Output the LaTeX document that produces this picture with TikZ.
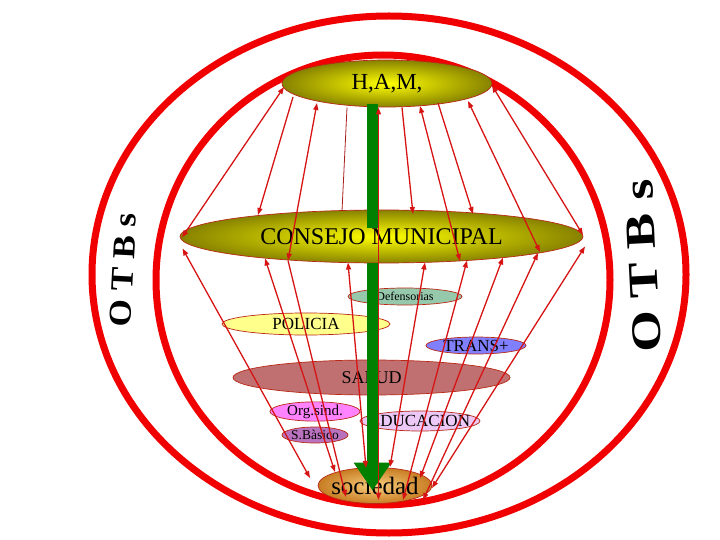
\documentclass[tikz,border=0pt]{standalone}
\usepackage{fontspec}
\setmainfont{Liberation Serif}
\usetikzlibrary{shapes.geometric,arrows.meta,calc}
\definecolor{ringred}{RGB}{240,0,0}
\definecolor{rline}{RGB}{215,20,20}
\definecolor{thinline}{RGB}{170,30,30}
\definecolor{eborder}{RGB}{185,40,20}
\definecolor{hamin}{RGB}{255,255,0}
\definecolor{hamout}{RGB}{135,130,0}
\definecolor{socin}{RGB}{248,205,125}
\definecolor{socout}{RGB}{200,125,35}
\definecolor{defc}{RGB}{150,200,172}
\definecolor{polc}{RGB}{255,255,140}
\definecolor{tranc}{RGB}{128,128,255}
\definecolor{salc}{RGB}{192,112,112}
\definecolor{orgc}{RGB}{255,130,255}
\definecolor{educ}{RGB}{235,200,245}
\definecolor{sbac}{RGB}{185,115,190}
\definecolor{grn}{RGB}{0,128,0}
\begin{document}
\begin{tikzpicture}[x=1pt,y=-1pt,
  oval/.style={ellipse, draw=eborder, line width=0.7pt, inner sep=0pt},
  ring/.style={draw=ringred, line width=7pt},
  rarr/.style={rline, line width=1.3pt, {Triangle[length=7pt,width=5pt]}-{Triangle[length=7pt,width=5pt]}},
  rto/.style={rline, line width=1.3pt, -{Triangle[length=7pt,width=5pt]}},
  fs/.style={font=\fontsize{#1}{#1}\selectfont},
  fsb/.style={font=\fontsize{#1}{#1}\selectfont\bfseries}
]
\useasboundingbox (0,0) rectangle (720,540);
% rings
\draw[ring] (389,274.5) ellipse [x radius=297, y radius=258.5];
\draw[ring] (383,280) ellipse [x radius=227, y radius=225];
% OTBs labels
\node[rotate=87, fsb=32] (otbl) at (123,270) {\scalebox{1.1}[1]{O T B s}};
\node[rotate=93, fsb=42] (otbr) at (643,266) {\scalebox{1.27}[1]{O T B s}};
% ellipses
\node[oval, minimum width=210pt, minimum height=47pt, shade, inner color=hamin, outer color=hamout, fs=23] (ham) at (387,83.5) {\makebox[0pt]{H,A,M,}};
\node[oval, minimum width=403pt, minimum height=53pt, shade, inner color=hamin, outer color=hamout, fs=24] (cons) at (381.5,236.5) {\makebox[0pt]{CONSEJO MUNICIPAL}};
\node[oval, fill=defc, minimum width=114pt, minimum height=17pt, fs=12] (def) at (405,296.5) {\makebox[0pt]{Defensorias}};
\node[oval, fill=polc, minimum width=168pt, minimum height=22pt, fs=17] (pol) at (306,324) {\makebox[0pt]{POLICIA}};
\node[oval, fill=tranc, minimum width=100pt, minimum height=17pt, fs=17] (tra) at (476,345.5) {\makebox[0pt]{TRANS+}};
\node[oval, fill=salc, minimum width=277pt, minimum height=35pt, fs=18] (sal) at (371.5,377.5) {\makebox[0pt]{SALUD}};
\node[oval, fill=orgc, minimum width=90pt, minimum height=17pt, fs=15] (org) at (315,411.5) {\makebox[0pt]{Org.sind.}};
\node[oval, fill=educ, minimum width=120pt, minimum height=20pt, fs=17] (edu) at (420,421) {\makebox[0pt]{EDUCACION}};
\node[oval, fill=sbac, minimum width=66pt, minimum height=16pt, fs=13.5] (sba) at (315,435) {\makebox[0pt]{S.Bàsico}};
\node[oval, minimum width=114pt, minimum height=36pt, shade, inner color=socin, outer color=socout, fs=25] (soc) at (375,485.5) {\makebox[0pt]{sociedad}};
% green arrow
\draw[grn, line width=10.5pt] ($(ham)+(-14.5,21)$) -- ($(cons)+(-9,-8.5)$);
\draw[grn, line width=10.5pt, -{Triangle[length=28pt,width=36pt]}] ($(cons)+(-9,26.5)$) -- ($(soc)+(-2.5,5)$);
% upper connectors
\draw[rarr] ($(ham)+(-103,3.5)$) -- ($(cons)+(-199.5,1)$);
\draw[rto]  ($(ham)+(-94,13.5)$) -- ($(cons)+(-123.5,-21.5)$);
\draw[rarr] ($(ham)+(-70,19.5)$) -- ($(cons)+(-93.5,24)$);
\draw[thinline, line width=0.8pt] ($(ham)+(-40,24)$) -- ($(cons)+(-39.5,-25.5)$);
\draw[rarr] ($(ham)+(-8.5,24)$) -- ($(soc)+(3.5,14.5)$);
\draw[rto]  ($(ham)+(15,24)$) -- ($(cons)+(31.5,-22.5)$);
\draw[rarr] ($(ham)+(33,22.5)$) -- ($(cons)+(78.5,24.5)$);
\draw[rto]  ($(ham)+(51,19.5)$) -- ($(cons)+(91.5,-22.5)$);
\draw[rarr] ($(ham)+(81,17.5)$) -- ($(cons)+(158.5,15.5)$);
\draw[rarr] ($(ham)+(105,2)$) -- ($(cons)+(201.5,-1.5)$);
% lower connectors
\draw[rarr] ($(cons)+(-199,12)$) -- ($(soc)+(-65,-7.5)$);
\draw[rarr] ($(cons)+(-116.5,22)$) -- ($(soc)+(-40,-13.5)$);
\draw[rto]  ($(cons)+(-93.5,24)$) -- ($(soc)+(-29,11.5)$);
\draw[rarr] ($(cons)+(-33.5,26)$) -- ($(soc)+(-9,-17.5)$);
\draw[rarr] ($(cons)+(43.5,26)$) -- ($(soc)+(15,-18.5)$);
\draw[rarr] ($(cons)+(85.5,24)$) -- ($(soc)+(28,14.5)$);
\draw[rarr] ($(cons)+(121.5,21)$) -- ($(soc)+(45,-7.5)$);
\draw[rarr] ($(cons)+(156.5,16.5)$) -- ($(soc)+(48,14.5)$);
\draw[rarr] ($(cons)+(203.5,10)$) -- ($(soc)+(57,2.5)$);
\end{tikzpicture}
\end{document}
